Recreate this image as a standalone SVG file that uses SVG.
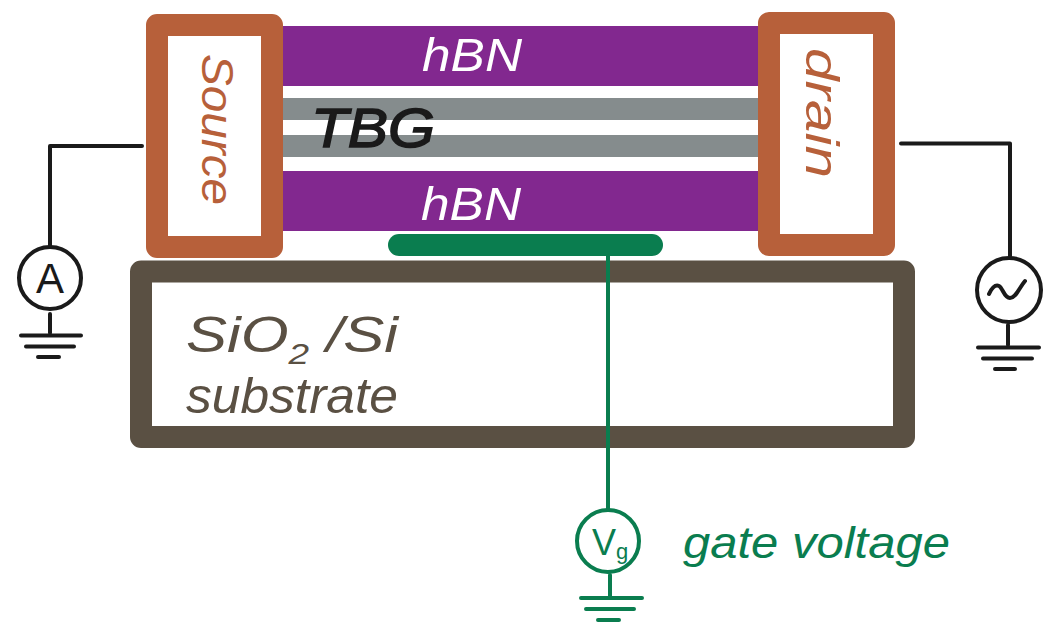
<svg xmlns="http://www.w3.org/2000/svg" width="1043" height="624" viewBox="0 0 1043 624">
<style>
.hand{font-family:"Liberation Sans",Arial,sans-serif;font-style:italic}
.wire{fill:none;stroke:#1a1a1a;stroke-width:4;stroke-linecap:round;stroke-linejoin:round}
.gw{fill:none;stroke:#0a7d4f;stroke-width:4;stroke-linecap:round;stroke-linejoin:round}
.pur{fill:#82288f}
.gra{fill:#858c8d}
.metal{fill:#fff;stroke:#b7603a;stroke-width:22;stroke-linejoin:round}
</style>
<rect width="1043" height="624" fill="#fff"/>
<g id="hbn-top"><rect class="pur" x="283" y="26" width="475" height="60"/><text class="hand" x="472" y="71" font-size="46" text-anchor="middle" textLength="100" lengthAdjust="spacingAndGlyphs" fill="#fff">hBN</text></g>
<g id="tbg"><rect class="gra" x="283" y="98" width="475" height="22"/><rect class="gra" x="283" y="135" width="475" height="22"/><text class="hand" x="311" y="147" font-size="56" textLength="124" lengthAdjust="spacingAndGlyphs" fill="#1a1a1a" stroke="#1a1a1a" stroke-width="1.500">TBG</text></g>
<g id="hbn-bottom"><rect class="pur" x="283" y="171" width="475" height="60"/><text class="hand" x="471" y="220" font-size="46" text-anchor="middle" textLength="100" lengthAdjust="spacingAndGlyphs" fill="#fff">hBN</text></g>
<g id="source"><rect class="metal" x="157" y="25" width="115" height="222"/><text class="hand" transform="translate(202 54) rotate(90)" font-size="44" textLength="151" lengthAdjust="spacingAndGlyphs" fill="#b7603a">Source</text></g>
<g id="drain"><rect class="metal" x="769" y="23" width="115" height="222"/><text class="hand" transform="translate(806 48) rotate(90)" font-size="46" textLength="130" lengthAdjust="spacingAndGlyphs" fill="#b7603a">drain</text></g>
<g id="gate"><rect x="388" y="234" width="275" height="22" rx="11" fill="#0a7d4f"/></g>
<g id="substrate"><rect x="141" y="271.500" width="763" height="165.500" fill="none" stroke="#5a5043" stroke-width="22" stroke-linejoin="round"/>
<text class="hand" x="186" y="352" font-size="50" textLength="212" lengthAdjust="spacingAndGlyphs" fill="#5a5043">SiO<tspan font-size="30" dy="12">2</tspan><tspan dy="-12"> /Si</tspan></text>
<text class="hand" x="186" y="413" font-size="50" textLength="212" lengthAdjust="spacingAndGlyphs" fill="#5a5043">substrate</text></g>
<g id="ammeter"><circle cx="50" cy="278" r="31" fill="#fff" stroke="#1a1a1a" stroke-width="4"/><text class="hand" x="50" y="293" font-size="42" text-anchor="middle" style="font-style:normal" fill="#1a1a1a">A</text>
<path class="wire" d="M21 335.500H81M26 346.500H74M38 357H59"/></g>
<g id="ac-source"><circle cx="1009" cy="290" r="32" fill="#fff" stroke="#1a1a1a" stroke-width="4"/><path class="wire" d="M989 294C991 289 995 284 999 286S1004 298 1010 298S1019 288 1025 281"/>
<path class="wire" d="M978 347.500H1039M983 358.500H1032M995 369H1015"/></g>
<g id="gate-voltage"><circle cx="608" cy="541" r="31" fill="#fff" stroke="#0a7d4f" stroke-width="4"/><text class="hand" x="592" y="555" font-size="36" fill="#0a7d4f" style="font-style:normal">V<tspan font-size="22" dy="4">g</tspan></text>
<path class="gw" d="M581 598H642M586 609H634M598 620H619"/>
<text class="hand" x="683" y="558" font-size="44" textLength="267" lengthAdjust="spacingAndGlyphs" fill="#0a7d4f">gate voltage</text></g>
<g id="connectors">
<path class="wire" d="M142 146H50V246"/>
<path class="wire" d="M50 314V333"/>
<path class="wire" d="M901 143.500H1010V256"/>
<path class="wire" d="M1008 325V345"/>
<path class="gw" d="M608 256V510"/>
<path class="gw" d="M610 575V597"/>
</g>
</svg>
